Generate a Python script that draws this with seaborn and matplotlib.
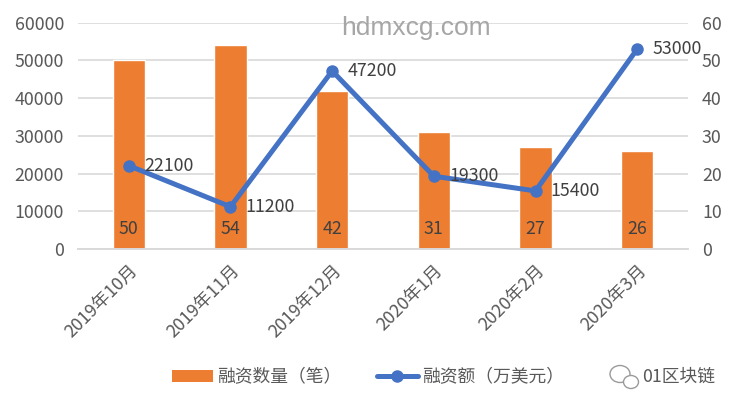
import matplotlib
matplotlib.use("Agg")
import matplotlib.pyplot as plt
import seaborn as sns
import numpy as np
import pandas as pd
from matplotlib.lines import Line2D
from matplotlib.patches import Patch, Ellipse

months = ["2019年10月", "2019年11月", "2019年12月", "2020年1月", "2020年2月", "2020年3月"]
deal_counts = [50, 54, 42, 31, 27, 26]
amounts = [22100, 11200, 47200, 19300, 15400, 53000]
left_ticks = [0, 10000, 20000, 30000, 40000, 50000, 60000]
right_ticks = [0, 10, 20, 30, 40, 50, 60]

sns.set_theme(style="white")
plt.rcParams["font.family"] = ["Noto Sans CJK SC", "DejaVu Sans"]

ORANGE = "#ED7D31"
BLUE = "#4472C4"
GRAY = "#595959"
GRID = "#D9D9D9"
FS = 12.8

df = pd.DataFrame({"month": months, "count": deal_counts, "amount": amounts})

fig = plt.figure(figsize=(7.35, 4.07), dpi=100)
ax = fig.add_axes([78 / 735, 1 - 249 / 407, 610 / 735, (249 - 22.7) / 407])
ax2 = ax.twinx()

# bars on right axis
sns.barplot(data=df, x="month", y="count", color=ORANGE, saturation=1,
            width=0.315, ax=ax2, zorder=2)
ax2.set_ylim(0, 60)
ax2.set_yticks(right_ticks)
ax2.grid(axis="y", color=GRID, linewidth=1.2, zorder=0)
ax2.set_axisbelow(True)
ax2.set_ylabel("")

# line on left axis
sns.pointplot(data=df, x="month", y="amount", color=BLUE, markers="o",
              ax=ax, linewidth=3.6)
for ln in ax.lines:
    ln.set_markersize(9)
    ln.set_markeredgewidth(0)
ax.set_ylim(0, 60000)
ax.set_yticks(left_ticks)
ax.set_ylabel("")
ax.set_xlabel("")
ax2.set_xlabel("")
ax.set_zorder(ax2.get_zorder() + 1)
ax.patch.set_visible(False)
ax.grid(False)
ax.set_xlim(-0.5, len(months) - 0.5)

for a in (ax, ax2):
    for s in ("top", "left", "right"):
        a.spines[s].set_visible(False)
    a.spines["bottom"].set_color(GRID)
    a.spines["bottom"].set_linewidth(1.2)
    a.tick_params(axis="y", length=0, labelsize=FS, labelcolor=GRAY, pad=10)

ax.set_xticks(range(len(months)))
ax.set_xticklabels(months, rotation=45, ha="right", rotation_mode="anchor",
                   fontsize=FS, color=GRAY)
ax.tick_params(axis="x", length=0, pad=9)
ax.set_xticks(np.arange(-0.5, len(months), 1.0), minor=True)
ax.tick_params(axis="x", which="minor", length=5, color=GRID, width=1.2)

# data labels
for i, v in enumerate(amounts):
    ax.annotate(str(v), xy=(i, v), xytext=(11, 0), textcoords="offset points",
                ha="left", va="center", fontsize=FS, color="#404040")
for i, v in enumerate(deal_counts):
    ax.annotate(str(v), xy=(i, 0), xytext=(0, 14.5), textcoords="offset points",
                ha="center", va="center", fontsize=FS, color="#404040")

# watermark
fig.text(416 / 735, 1 - 28 / 407, "hdmxcg.com", ha="center", va="center",
         fontsize=19, color="#A6A6A6", family=["Liberation Sans", "DejaVu Sans"])

# legend
handles = [Patch(facecolor=ORANGE, edgecolor="none"),
           Line2D([0], [0], color=BLUE, lw=3.6, marker="o", markersize=9,
                  markeredgewidth=0)]
fig.legend(handles, ["融资数量（笔）", "融资额（万美元）"], loc="center",
           bbox_to_anchor=(368 / 735, 1 - 377 / 407), ncol=2, frameon=False,
           fontsize=FS, handlelength=2.3, handletextpad=0.25, columnspacing=2.0,
           labelcolor=GRAY)

fig.text(679 / 735, 1 - 377 / 407, "01区块链", ha="center", va="center",
         fontsize=FS, color=GRAY)
# simple chat-bubble icon
px = fig.dpi_scale_trans
icon_big = Ellipse((620 / 100, (407 - 374) / 100), 0.2, 0.17, transform=px,
                   fill=False, edgecolor="#9A9A9A", lw=1.0)
icon_small = Ellipse((631 / 100, (407 - 382) / 100), 0.15, 0.13, transform=px,
                     facecolor="white", edgecolor="#9A9A9A", lw=1.0)
fig.add_artist(icon_big)
fig.add_artist(icon_small)

fig.savefig("out.png", dpi=100)
